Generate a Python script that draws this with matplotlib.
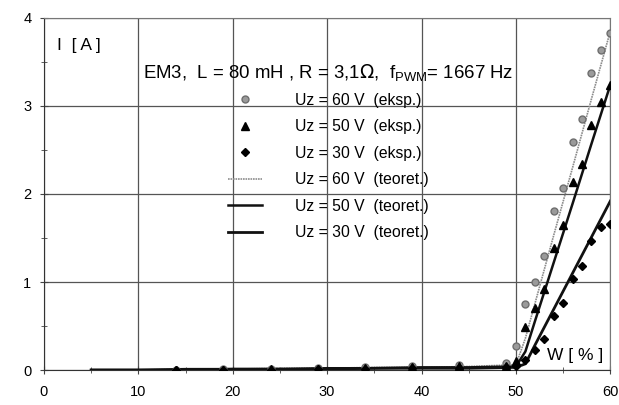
import matplotlib.pyplot as plt
from matplotlib.ticker import MultipleLocator

plt.rcParams["font.family"] = ["Liberation Sans", "DejaVu Sans"]

# measured points (W in %, I in A)
w_eksp = [14, 19, 24, 29, 34, 39, 44, 49, 50, 51, 52, 53, 54, 55, 56, 57, 58, 59, 60]
i_60_eksp = [0.0, 0.01, 0.01, 0.02, 0.03, 0.04, 0.06, 0.08, 0.27, 0.75, 1.0, 1.29,
             1.81, 2.07, 2.59, 2.85, 3.38, 3.64, 3.83]
i_50_eksp = [0.0, 0.0, 0.01, 0.01, 0.02, 0.03, 0.04, 0.05, 0.1, 0.49, 0.70, 0.92,
             1.39, 1.65, 2.14, 2.34, 2.78, 3.05, 3.24]
i_30_eksp = [0.0, 0.0, 0.0, 0.01, 0.01, 0.02, 0.02, 0.03, 0.05, 0.11, 0.23, 0.35,
             0.61, 0.76, 1.03, 1.18, 1.47, 1.62, 1.66]

# theoretical curves
w_teor = [5, 10, 15, 20, 25, 30, 35, 40, 45, 50, 51, 52, 54, 56, 58, 60]
i_60_teor = [0.0, 0.0, 0.01, 0.01, 0.02, 0.02, 0.03, 0.03, 0.04, 0.06, 0.36, 0.75, 1.53, 2.3, 3.08, 3.85]
i_50_teor = [0.0, 0.0, 0.01, 0.01, 0.01, 0.02, 0.02, 0.03, 0.03, 0.04, 0.21, 0.55, 1.22, 1.89, 2.57, 3.24]
i_30_teor = [0.0, 0.0, 0.0, 0.01, 0.01, 0.01, 0.02, 0.02, 0.02, 0.03, 0.07, 0.28, 0.69, 1.10, 1.51, 1.92]

x_ticks = [0, 10, 20, 30, 40, 50, 60]
y_ticks = [0, 1, 2, 3, 4]

fig = plt.figure(figsize=(6.19, 4.05), dpi=100)
ax = fig.add_axes([0.071, 0.0864, 0.915, 0.8692])

ax.plot(w_eksp, i_60_eksp, "o", color="#9a9a9a", markeredgecolor="#6e6e6e",
        markersize=5, label="Uz = 60 V  (eksp.)", zorder=4)
ax.plot(w_eksp, i_50_eksp, "^", color="black", markersize=6,
        label="Uz = 50 V  (eksp.)", zorder=4)
ax.plot(w_eksp, i_30_eksp, "D", color="black", markersize=4.5,
        label="Uz = 30 V  (eksp.)", zorder=4)
ax.plot(w_teor, i_60_teor, color="#8c8c8c", lw=1.2, ls=(0, (1, 0.5)),
        label="Uz = 60 V  (teoret.)", zorder=3)
ax.plot(w_teor, i_50_teor, color="#111111", lw=1.8,
        label="Uz = 50 V  (teoret.)", zorder=3)
ax.plot(w_teor, i_30_teor, color="#111111", lw=2.0,
        label="Uz = 30 V  (teoret.)", zorder=3)

ax.set_xlim(0, 60)
ax.set_ylim(0, 4)
ax.set_xticks(x_ticks)
ax.set_yticks(y_ticks)
ax.xaxis.set_minor_locator(MultipleLocator(5))
ax.yaxis.set_minor_locator(MultipleLocator(0.5))
ax.tick_params(which="both", direction="inout", labelsize=10.5, color="#444444")
ax.tick_params(which="major", length=6)
ax.tick_params(which="minor", length=4)
ax.tick_params(axis="x", pad=8)
ax.tick_params(axis="y", pad=6)
ax.grid(True, which="major", color="#555555", lw=0.9)
for side in ["top", "right"]:
    ax.spines[side].set_color("#777777")
for side in ["left", "bottom"]:
    ax.spines[side].set_color("#333333")

ax.text(1.4, 3.69, "I  [ A ]", fontsize=12.5, va="center")
ax.text(10.5, 3.375, r"EM3,  L = 80 mH , R = 3,1$\Omega$,  f$_{\mathregular{PWM}}$= 1667 Hz",
        fontsize=13.4, va="center")
ax.text(53.3, 0.17, "W [ % ]", fontsize=12.5, va="center")

ax.legend(loc="upper left", bbox_to_anchor=(0.325, 0.787), frameon=False,
          fontsize=11.3, labelspacing=0.73, handlelength=2.15, handletextpad=2.1,
          borderpad=0, borderaxespad=0)

fig.savefig("out.png", dpi=100)
